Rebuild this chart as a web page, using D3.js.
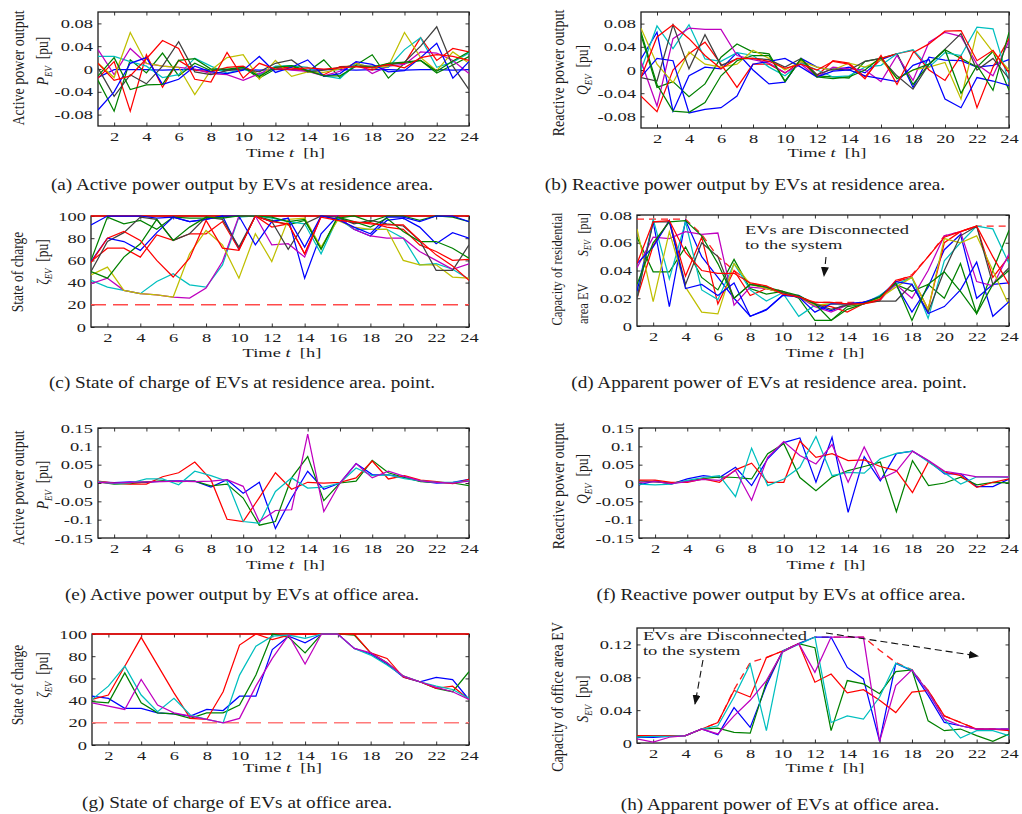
<!DOCTYPE html>
<html>
<head>
<meta charset="utf-8">
<script src="https://cdn.jsdelivr.net/npm/d3@7"></script>
<style>
  html, body { margin: 0; padding: 0; background: #fff; }
  svg { display: block; font-family: "Liberation Serif", "Times New Roman", serif; }
</style>
</head>
<body>
<svg id="fig" width="1022" height="814"></svg>
<script>
// ---------- shared axes ----------
const hours = [1,2,3,4,5,6,7,8,9,10,11,12,13,14,15,16,17,18,19,20,21,22,23,24];
const hourTicks = [2,4,6,8,10,12,14,16,18,20,22,24];
const ticksPowerRes = [-0.08,-0.04,0,0.04,0.08];
const ticksSoc = [0,20,40,60,80,100];
const ticksCapRes = [0,0.02,0.04,0.06,0.08];
const ticksPowerOff = [-0.15,-0.1,-0.05,0,0.05,0.1,0.15];
const ticksCapOff = [0,0.04,0.08,0.12];
const socUpper = 100;
const socLower = 20;

// ---------- (a) active power, residence area ----------
const aBlue1   = [-0.015,-0.001,-0.001,-0.001,-0.002,-0.001,-0.001,-0.002,-0.001,-0.001,-0.002,-0.001,-0.001,-0.002,-0.001,-0.001,-0.002,-0.001,-0.001,-0.002,-0.001,-0.001,-0.002,-0.001];
const aGreen1  = [-0.020,-0.074,0.016,-0.007,0.028,-0.012,0.010,-0.003,-0.002,0.003,-0.016,0.000,0.005,-0.005,0.016,-0.015,0.007,0.025,-0.016,0.010,0.015,-0.007,0.007,0.022];
const aRed1    = [-0.016,0.013,-0.074,0.025,-0.032,0.015,-0.002,-0.005,0.003,0.005,-0.010,0.004,0.002,-0.003,-0.010,0.004,0.005,-0.002,0.010,0.010,0.055,0.015,0.036,0.030];
const aCyan    = [0.022,0.022,0.013,0.005,-0.015,-0.010,0.019,0.005,-0.007,0.000,-0.010,0.005,0.006,0.003,-0.012,-0.017,0.010,0.002,0.003,0.034,0.055,0.003,0.012,0.028];
const aMagenta = [0.034,-0.010,0.036,0.010,0.005,0.003,0.000,-0.008,-0.010,-0.020,-0.008,0.003,-0.002,-0.004,-0.012,-0.004,0.012,-0.008,0.005,0.008,0.030,0.028,0.015,-0.008];
const aYellow  = [0.010,-0.015,0.064,0.010,0.005,0.003,-0.045,-0.002,0.020,0.025,-0.018,0.015,-0.013,-0.005,-0.006,0.000,0.010,0.002,0.005,0.064,0.020,-0.003,0.030,0.010];
const aGray    = [0.002,-0.048,-0.010,-0.026,0.005,0.048,-0.005,-0.010,-0.003,0.000,-0.005,0.010,0.016,-0.005,-0.002,0.003,0.005,0.005,0.007,0.012,0.040,0.074,0.005,-0.036];
const aBlue2   = [-0.072,-0.040,0.010,0.020,-0.027,-0.018,0.005,-0.005,-0.008,-0.002,0.022,-0.006,0.003,0.016,-0.013,-0.008,0.013,0.008,-0.005,-0.003,0.020,0.045,-0.016,0.013];
const aGreen2  = [-0.012,0.020,-0.036,-0.028,-0.027,0.015,0.018,0.000,0.000,0.003,-0.013,0.003,0.006,-0.003,-0.012,-0.012,0.005,0.003,0.010,0.012,0.015,-0.004,0.014,0.030];
const aRed2    = [0.010,-0.020,-0.012,0.018,0.050,0.036,-0.018,-0.023,0.029,-0.016,0.010,0.000,0.000,0.002,0.000,0.002,0.004,0.002,0.008,0.002,0.020,0.025,0.022,0.015];

// ---------- (b) reactive power, residence area ----------
const bBlue1   = [0.019,0.065,-0.071,-0.010,0.005,0.002,0.030,0.000,-0.024,-0.021,0.020,0.005,0.000,0.005,-0.005,0.018,0.028,-0.030,0.022,0.017,0.016,0.005,0.008,0.018];
const bGreen1  = [0.060,-0.030,-0.020,-0.046,-0.024,0.022,0.045,0.031,0.028,-0.019,0.018,-0.010,-0.012,-0.014,0.015,0.020,0.028,-0.025,0.010,0.035,0.020,0.005,0.032,-0.035];
const bRed1    = [-0.045,-0.072,0.000,0.028,0.048,0.010,-0.030,0.010,0.010,-0.005,0.015,-0.010,0.016,0.012,-0.012,0.020,0.028,0.034,0.000,-0.018,0.025,-0.065,0.005,0.054];
const bCyan    = [0.000,0.076,0.037,0.078,0.019,0.015,0.030,0.025,0.005,-0.010,0.012,0.000,-0.012,-0.010,0.005,0.008,0.028,0.035,0.005,0.030,0.025,0.074,0.071,-0.021];
const bMagenta = [0.015,-0.062,0.054,0.072,0.070,0.070,0.025,0.018,0.012,-0.005,0.010,-0.012,0.005,0.002,0.000,-0.020,0.025,-0.018,0.048,0.065,0.058,0.010,-0.010,0.050];
const bYellow  = [0.072,0.010,-0.022,0.031,0.010,0.005,0.010,0.034,0.020,0.000,0.015,0.005,0.000,0.012,0.005,0.018,-0.015,0.000,0.005,0.013,-0.050,0.067,0.031,0.000];
const bGray    = [-0.013,-0.019,0.078,0.002,0.061,0.008,0.019,0.020,0.018,0.005,0.020,-0.008,0.002,0.000,0.015,0.020,-0.010,-0.033,0.010,0.036,0.063,0.000,0.020,-0.015];
const bBlue2   = [-0.012,0.020,0.016,-0.074,-0.068,-0.065,-0.045,0.010,0.015,0.020,0.005,-0.012,-0.002,0.000,-0.010,-0.015,-0.020,0.008,0.018,-0.050,-0.065,-0.013,-0.019,-0.027];
const bGreen2  = [0.065,-0.025,-0.071,-0.073,-0.056,-0.010,0.016,0.025,0.025,-0.020,0.020,-0.012,-0.015,-0.012,0.000,0.022,-0.015,0.000,0.010,0.035,-0.040,0.008,-0.035,0.065];
const bRed2    = [-0.013,0.057,0.078,0.054,0.025,0.002,0.020,0.020,0.015,0.003,0.010,0.000,0.015,0.010,-0.015,0.025,-0.025,0.030,0.045,0.067,0.068,0.016,0.034,-0.005];

// ---------- (c) state of charge, residence area ----------
const cBlue1   = [92,100,100,100,98,99,95,97,100,70,100,95,98,44,84,100,88,82,96,98,90,75,85,80];
const cGreen1  = [60,99,93,96,88,99,98,98,99,100,100,96,92,96,71,98,100,95,100,100,96,100,99,95];
const cRed1    = [59,71,71,63,83,78,84,84,95,70,100,90,93,66,100,97,94,94,90,88,74,68,60,61];
const cCyan    = [42,36,33,30,41,48,38,36,56,99,100,98,95,93,66,98,88,88,88,80,56,57,52,43];
const cMagenta = [39,44,33,30,29,27,26,35,59,100,100,74,75,63,100,100,88,82,80,80,68,60,52,57];
const cYellow  = [47,54,33,30,29,27,66,87,74,44,84,59,97,98,72,96,90,88,88,60,56,56,45,44];
const cGray    = [50,77,85,99,97,78,84,99,97,72,100,95,70,93,100,99,93,96,93,91,78,51,51,74];
const cBlue2   = [59,80,77,69,85,99,95,97,100,100,74,95,98,72,100,97,90,84,99,99,95,100,100,95];
const cGreen2  = [50,44,63,75,97,78,90,99,98,100,100,99,95,97,70,99,95,90,98,86,77,77,71,62];
const cRed2    = [58,80,86,78,60,45,62,96,71,69,100,95,93,66,99,96,95,93,92,92,78,65,55,42];

// ---------- (d) apparent power, residence area ----------
const dLimit   = [0.077,0.077,0.077,0.077,0.066,0.050,0.040,0.031,0.028,0.025,0.021,0.017,0.017,0.017,0.017,0.020,0.032,0.037,0.050,0.065,0.068,0.072,0.072,0.072];
const dBlue1   = [0.025,0.075,0.014,0.076,0.050,0.035,0.020,0.007,0.0115,0.022,0.022,0.015,0.011,0.016,0.017,0.020,0.030,0.010,0.028,0.055,0.066,0.020,0.030,0.031];
const dGreen1  = [0.064,0.039,0.039,0.057,0.035,0.026,0.048,0.027,0.023,0.025,0.020,0.004,0.004,0.014,0.016,0.020,0.030,0.025,0.030,0.020,0.045,0.009,0.040,0.069];
const dRed1    = [0.020,0.058,0.076,0.036,0.064,0.016,0.040,0.022,0.027,0.024,0.021,0.016,0.014,0.010,0.016,0.018,0.032,0.035,0.012,0.060,0.068,0.072,0.035,0.050];
const dCyan    = [0.020,0.077,0.034,0.075,0.026,0.019,0.045,0.026,0.018,0.024,0.007,0.015,0.016,0.015,0.016,0.022,0.030,0.035,0.0055,0.047,0.060,0.072,0.070,0.045];
const dMagenta = [0.042,0.064,0.063,0.068,0.066,0.067,0.015,0.028,0.027,0.024,0.021,0.014,0.010,0.015,0.017,0.019,0.030,0.020,0.040,0.065,0.068,0.032,0.029,0.052];
const dYellow  = [0.070,0.0175,0.068,0.028,0.010,0.0087,0.045,0.030,0.027,0.024,0.021,0.015,0.016,0.015,0.016,0.020,0.028,0.035,0.012,0.063,0.060,0.065,0.040,0.015];
const dGray    = [0.020,0.075,0.075,0.030,0.060,0.050,0.020,0.030,0.028,0.024,0.021,0.016,0.012,0.015,0.017,0.018,0.018,0.030,0.010,0.040,0.065,0.072,0.030,0.042];
const dBlue2   = [0.045,0.057,0.076,0.027,0.030,0.022,0.031,0.007,0.012,0.022,0.021,0.010,0.016,0.016,0.017,0.021,0.032,0.030,0.009,0.014,0.026,0.046,0.007,0.0175];
const dGreen2  = [0.030,0.060,0.075,0.076,0.065,0.045,0.020,0.030,0.028,0.025,0.022,0.016,0.004,0.012,0.016,0.021,0.031,0.004,0.030,0.039,0.025,0.009,0.030,0.040];
const dRed2    = [0.045,0.075,0.076,0.053,0.040,0.038,0.038,0.031,0.029,0.023,0.021,0.017,0.017,0.016,0.016,0.019,0.033,0.036,0.050,0.064,0.068,0.072,0.050,0.030];

// ---------- (e) active power, office area ----------
const eBlue    = [0.003,0.001,0.003,0.002,0.005,0.006,0.005,-0.011,0.009,-0.028,0.002,-0.124,-0.041,0.032,-0.017,0.000,0.053,0.023,0.022,0.015,0.005,0.000,0.002,0.010];
const eGreen   = [0.003,-0.003,-0.002,0.003,0.006,0.004,0.005,-0.008,-0.003,-0.041,-0.115,-0.105,0.014,0.072,-0.048,0.000,0.005,0.062,0.028,0.015,0.004,0.002,0.000,-0.007];
const eRed     = [0.005,0.000,-0.003,-0.003,0.017,0.028,0.057,0.009,-0.099,-0.105,-0.040,0.028,-0.017,0.002,0.000,0.002,0.014,0.060,0.011,0.020,0.008,0.004,-0.002,0.010];
const eCyan    = [0.004,-0.002,0.000,0.011,0.011,-0.005,0.032,0.020,0.005,-0.105,-0.110,-0.023,0.014,-0.014,-0.011,0.000,0.041,0.020,0.022,0.012,0.006,0.002,0.002,0.006];
const eMagenta = [0.002,0.000,0.002,0.003,0.004,0.005,0.004,0.005,0.009,-0.009,-0.105,-0.075,-0.073,0.133,-0.078,0.000,0.053,0.014,0.032,0.018,0.006,0.002,0.000,0.005];

// ---------- (f) reactive power, office area ----------
const fBlue    = [-0.005,0.006,-0.003,0.011,0.020,0.015,0.043,-0.007,0.066,0.110,0.123,0.002,0.125,-0.080,0.072,0.006,0.080,0.087,0.060,0.025,0.025,-0.010,-0.010,0.011];
const fGreen   = [0.006,0.003,0.000,0.005,0.012,0.017,0.015,0.011,0.080,0.107,0.015,-0.021,0.016,0.034,0.045,0.057,-0.078,0.061,-0.007,0.000,0.016,-0.005,0.002,0.000];
const fRed     = [0.008,0.008,0.002,0.002,0.011,0.002,0.036,0.054,0.002,0.002,0.114,0.070,0.080,0.061,0.063,0.045,0.034,-0.026,0.058,0.030,0.020,-0.012,0.002,0.011];
const fCyan    = [-0.003,-0.005,-0.003,0.007,0.015,0.020,-0.037,0.095,-0.007,0.011,0.043,0.127,0.020,0.029,0.027,0.066,0.081,0.087,0.057,0.027,-0.003,0.017,0.017,0.015];
const fMagenta = [0.002,0.004,-0.002,0.004,0.010,0.007,0.034,-0.047,0.070,0.113,0.075,0.052,0.105,0.002,0.098,0.011,0.032,0.087,0.061,0.032,0.025,0.017,0.017,0.017];

// ---------- (g) state of charge, office area ----------
const gBlue    = [44,42,33,33,29,28,26,32,31,44,44,86,98,92,100,100,87,82,73,61,57,61,59,41];
const gGreen   = [39,38,65,38,29,28,24,29,29,36,63,100,97,83,100,100,99,83,74,62,57,51,48,66];
const gRed     = [41,45,71,97,72,47,24,23,48,90,100,95,99,100,100,100,100,83,78,61,57,51,53,41];
const gCyan    = [41,53,71,45,30,42,27,23,20,63,89,98,99,96,100,100,87,81,72,62,57,53,50,42];
const gMagenta = [38,35,32,59,36,29,26,23,20,24,53,78,99,73,100,100,87,83,74,62,57,52,48,41];

// ---------- (h) apparent power, office area ----------
const hLimit   = [0.009,0.009,0.009,0.009,0.017,0.025,0.065,0.098,0.104,0.112,0.121,0.129,0.129,0.129,0.129,0.113,0.098,0.089,0.064,0.033,0.025,0.017,0.017,0.017];
const hBlue    = [0.007,0.007,0.008,0.009,0.017,0.010,0.043,0.019,0.070,0.112,0.121,0.129,0.129,0.092,0.078,0.002,0.097,0.088,0.058,0.025,0.021,0.017,0.017,0.017];
const hGreen   = [0.008,0.009,0.009,0.009,0.017,0.018,0.013,0.012,0.074,0.111,0.121,0.116,0.015,0.076,0.072,0.060,0.087,0.089,0.027,0.015,0.017,0.009,0.002,0.011];
const hRed     = [0.009,0.009,0.009,0.009,0.017,0.025,0.064,0.056,0.104,0.112,0.121,0.074,0.084,0.061,0.065,0.052,0.037,0.062,0.064,0.033,0.025,0.017,0.017,0.015];
const hCyan    = [0.007,0.008,0.008,0.009,0.017,0.021,0.056,0.096,0.015,0.112,0.120,0.129,0.025,0.033,0.029,0.056,0.097,0.089,0.062,0.029,0.006,0.015,0.015,0.009];
const hMagenta = [0.005,0.001,0.007,0.009,0.017,0.011,0.033,0.052,0.076,0.111,0.121,0.086,0.129,0.129,0.129,0.002,0.070,0.089,0.062,0.029,0.021,0.017,0.017,0.017];

// ---------- styling ----------
const INK = "#1c1c1c";
const SX = 1.42;          // horizontal stretch of in-figure lettering
const FONT = 13;          // tick / axis title size
const TICK = 3.5;
const palette10 = ["#0000ff","#008000","#ff0000","#00bfbf","#bf00bf","#bfbf00","#404040","#0000ff","#008000","#ff0000"];
const palette5 = palette10.slice(0, 5);

const panels = [
  { id: "a", box: {l: 98, r: 469, t: 12, b: 126}, yDomain: [-0.1, 0.1], yTicks: ticksPowerRes,
    series: [aBlue1, aGreen1, aRed1, aCyan, aMagenta, aYellow, aGray, aBlue2, aGreen2, aRed2], colors: palette10,
    label1: {text: "Active power output", x: 18, y: 68, size: 14},
    label2: {sym: "P", x: 43, y: 61, size: 13.5},
    timeY: 157,
    caption: {text: "(a) Active power output by EVs at residence area.", x: 242, y: 190} },
  { id: "b", box: {l: 641, r: 1009, t: 12, b: 128}, yDomain: [-0.1, 0.1], yTicks: ticksPowerRes,
    series: [bBlue1, bGreen1, bRed1, bCyan, bMagenta, bYellow, bGray, bBlue2, bGreen2, bRed2], colors: palette10,
    label1: {text: "Reactive power output", x: 558, y: 73, size: 14},
    label2: {sym: "Q", x: 583, y: 70, size: 13.5},
    timeY: 157,
    caption: {text: "(b) Reactive power output by EVs at residence area.", x: 745, y: 190} },
  { id: "c", box: {l: 91, r: 469, t: 216, b: 327}, yDomain: [0, 100], yTicks: ticksSoc,
    series: [cBlue1, cGreen1, cRed1, cCyan, cMagenta, cYellow, cGray, cBlue2, cGreen2, cRed2], colors: palette10,
    soc: true, lowerColor: "#ff4a4a",
    label1: {text: "State of charge", x: 18, y: 272, size: 13.5},
    label2: {sym: "\u03b6", x: 43, y: 262, size: 13.5},
    timeY: 357,
    caption: {text: "(c) State of charge of EVs at residence area. point.", x: 242, y: 388} },
  { id: "d", box: {l: 637, r: 1009, t: 215, b: 326}, yDomain: [0, 0.08], yTicks: ticksCapRes,
    series: [dBlue1, dGreen1, dRed1, dCyan, dMagenta, dYellow, dGray, dBlue2, dGreen2, dRed2], colors: palette10,
    limit: dLimit,
    label1: {text: "Capacity of residential", x: 557, y: 269, size: 12.5},
    splitLabel: {x: 583, bottom: 324, top: 213, word: "area EV", size: 12.5},
    timeY: 357,
    caption: {text: "(d) Apparent power of EVs at residence area. point.", x: 769, y: 388} },
  { id: "e", box: {l: 98, r: 469, t: 428, b: 538}, yDomain: [-0.15, 0.15], yTicks: ticksPowerOff,
    series: [eBlue, eGreen, eRed, eCyan, eMagenta], colors: palette5,
    label1: {text: "Active power output", x: 18, y: 488, size: 14},
    label2: {sym: "P", x: 43, y: 485, size: 13.5},
    timeY: 569,
    caption: {text: "(e) Active power output by EVs at office area.", x: 242, y: 600} },
  { id: "f", box: {l: 639, r: 1009, t: 428, b: 538}, yDomain: [-0.15, 0.15], yTicks: ticksPowerOff,
    series: [fBlue, fGreen, fRed, fCyan, fMagenta], colors: palette5,
    label1: {text: "Reactive power output", x: 558, y: 486, size: 14},
    label2: {sym: "Q", x: 583, y: 479, size: 13.5},
    timeY: 569,
    caption: {text: "(f) Reactive power output by EVs at office area.", x: 781, y: 600} },
  { id: "g", box: {l: 92, r: 469, t: 634, b: 745}, yDomain: [0, 100], yTicks: ticksSoc,
    series: [gBlue, gGreen, gRed, gCyan, gMagenta], colors: palette5,
    soc: true, lowerColor: "#ff7a7a",
    label1: {text: "State of charge", x: 18, y: 685, size: 13.5},
    label2: {sym: "\u03b6", x: 43, y: 675, size: 13.5},
    timeY: 772,
    caption: {text: "(g) State of charge of EVs at office area.", x: 237, y: 808} },
  { id: "h", box: {l: 637, r: 1009, t: 628, b: 743}, yDomain: [0, 0.14], yTicks: ticksCapOff,
    series: [hBlue, hGreen, hRed, hCyan, hMagenta], colors: palette5,
    limit: hLimit,
    label1: {text: "Capacity of office area EV", x: 557, y: 697, size: 14},
    label2: {sym: "S", x: 583, y: 699, size: 13.5},
    timeY: 772,
    caption: {text: "(h) Apparent power of EVs at office area.", x: 780, y: 810} }
];

const svg = d3.select("#fig");
const defs = svg.append("defs");
defs.append("marker").attr("id", "arrowHead")
  .attr("viewBox", "0 0 10 8").attr("refX", 9).attr("refY", 4)
  .attr("markerWidth", 10).attr("markerHeight", 8).attr("markerUnits", "userSpaceOnUse")
  .attr("orient", "auto")
  .append("path").attr("d", "M0,0 L10,4 L0,8 Z").attr("fill", "#111");

const fmtTick = d => d === 0 ? "0" : String(+d.toFixed(3));

// horizontal lettering, widened like the rest of the figure text
function wideText(parent, x, y, txt, size, anchor, sx) {
  return parent.append("text")
    .attr("transform", `translate(${x},${y}) scale(${sx},1)`)
    .attr("text-anchor", anchor)
    .attr("font-size", size)
    .attr("fill", INK)
    .text(txt);
}

// vertical axis title (reads bottom to top)
function vertText(parent, x, y, size, anchor) {
  return parent.append("text")
    .attr("transform", `translate(${x},${y}) scale(1.22,1) rotate(-90)`)
    .attr("text-anchor", anchor)
    .attr("dominant-baseline", "central")
    .attr("font-size", size)
    .attr("fill", INK);
}

function symbolWithUnit(t, sym, size) {
  t.append("tspan").attr("font-style", "italic").text(sym);
  t.append("tspan").attr("font-style", "italic").attr("font-size", size * 0.66).attr("dy", size * 0.28).text("EV");
  t.append("tspan").attr("dy", -size * 0.28).text("\u00a0\u00a0[pu]");
}

function drawPanel(p) {
  const b = p.box;
  const g = svg.append("g").attr("class", "panel-" + p.id);
  const x = d3.scaleLinear().domain([1, 24]).range([b.l, b.r]);
  const y = d3.scaleLinear().domain(p.yDomain).range([b.b, b.t]);

  defs.append("clipPath").attr("id", "clip-" + p.id)
    .append("rect").attr("x", b.l).attr("y", b.t - 1.5).attr("width", b.r - b.l).attr("height", b.b - b.t + 3);

  // inward ticks on all four sides
  const styleAxis = sel => {
    sel.select(".domain").remove();
    sel.attr("font-size", null).attr("font-family", null);
    sel.selectAll("line").attr("stroke", INK).attr("stroke-width", 0.9);
  };
  const xb = g.append("g").attr("transform", `translate(0,${b.b})`)
    .call(d3.axisBottom(x).tickValues(hourTicks).tickSize(-TICK).tickPadding(5.5).tickFormat(d3.format("d")));
  styleAxis(xb);
  xb.selectAll("text").attr("font-size", FONT).attr("fill", INK).attr("transform", `scale(${SX},1)`);

  const xt = g.append("g").attr("transform", `translate(0,${b.t})`)
    .call(d3.axisTop(x).tickValues(hourTicks).tickSize(-TICK).tickFormat(() => ""));
  styleAxis(xt);

  const yl = g.append("g").attr("transform", `translate(${b.l},0)`)
    .call(d3.axisLeft(y).tickValues(p.yTicks).tickSize(-TICK).tickPadding(0).tickFormat(fmtTick));
  styleAxis(yl);
  yl.selectAll("text").attr("font-size", FONT).attr("fill", INK).attr("x", 0)
    .attr("transform", `translate(-5,0) scale(${SX},1)`);

  const yr = g.append("g").attr("transform", `translate(${b.r},0)`)
    .call(d3.axisRight(y).tickValues(p.yTicks).tickSize(-TICK).tickFormat(() => ""));
  styleAxis(yr);

  // frame
  g.append("rect").attr("x", b.l).attr("y", b.t).attr("width", b.r - b.l).attr("height", b.b - b.t)
    .attr("fill", "none").attr("stroke", INK).attr("stroke-width", 1.3);

  const plot = g.append("g").attr("clip-path", `url(#clip-${p.id})`);
  const line = d3.line().x((d, i) => x(hours[i])).y(d => y(d));

  if (p.soc) {
    plot.append("line").attr("x1", x(1)).attr("x2", x(24)).attr("y1", y(socUpper)).attr("y2", y(socUpper))
      .attr("stroke", "#ff0000").attr("stroke-width", 1.4);
    plot.append("line").attr("x1", x(1)).attr("x2", x(24)).attr("y1", y(socLower)).attr("y2", y(socLower))
      .attr("stroke", p.lowerColor).attr("stroke-width", 1.4).attr("stroke-dasharray", "15,7");
  }
  if (p.limit) {
    plot.append("path").datum(p.limit).attr("d", line)
      .attr("fill", "none").attr("stroke", "#ff2020").attr("stroke-width", 1.3).attr("stroke-dasharray", "7,5");
  }
  plot.selectAll("path.series").data(p.series).join("path")
    .attr("class", "series")
    .attr("d", line)
    .attr("fill", "none")
    .attr("stroke", (d, i) => p.colors[i])
    .attr("stroke-width", 1.25)
    .attr("stroke-linejoin", "miter");

  // x axis title
  const tt = g.append("text")
    .attr("transform", `translate(${(b.l + b.r) / 2 + 2},${p.timeY}) scale(${SX},1)`)
    .attr("text-anchor", "middle").attr("font-size", FONT).attr("fill", INK);
  tt.append("tspan").text("Time ");
  tt.append("tspan").attr("font-style", "italic").text("t");
  tt.append("tspan").text("\u00a0\u00a0[h]");

  // y axis titles
  vertText(g, p.label1.x, p.label1.y, p.label1.size, "middle").text(p.label1.text);
  if (p.label2) {
    symbolWithUnit(vertText(g, p.label2.x, p.label2.y, p.label2.size, "middle"), p.label2.sym, p.label2.size);
  }
  if (p.splitLabel) {
    const s = p.splitLabel;
    vertText(g, s.x, s.bottom, s.size, "start").text(s.word);
    symbolWithUnit(vertText(g, s.x, s.top, s.size, "end"), "S", s.size);
  }

  // caption
  wideText(svg, p.caption.x, p.caption.y, p.caption.text, 17, "middle", 1.13);
  return {x, y};
}

panels.forEach(drawPanel);

// ---------- annotations ----------
function dashedArrow(x1, y1, x2, y2) {
  svg.append("line").attr("x1", x1).attr("y1", y1).attr("x2", x2).attr("y2", y2)
    .attr("stroke", "#111").attr("stroke-width", 1.1).attr("stroke-dasharray", "7,4")
    .attr("marker-end", "url(#arrowHead)");
}

// residence capacity panel
wideText(svg, 745, 234, "EVs are Disconnected", 13, "start", 1.42);
wideText(svg, 745, 249, "to the system", 13, "start", 1.42);
dashedArrow(826, 257, 824, 276);

// office capacity panel
wideText(svg, 643, 640, "EVs are Disconnected", 13, "start", 1.42);
wideText(svg, 643, 655, "to the system", 13, "start", 1.42);
dashedArrow(703, 660, 695, 704);
dashedArrow(826, 633, 978, 656);
</script>
</body>
</html>
